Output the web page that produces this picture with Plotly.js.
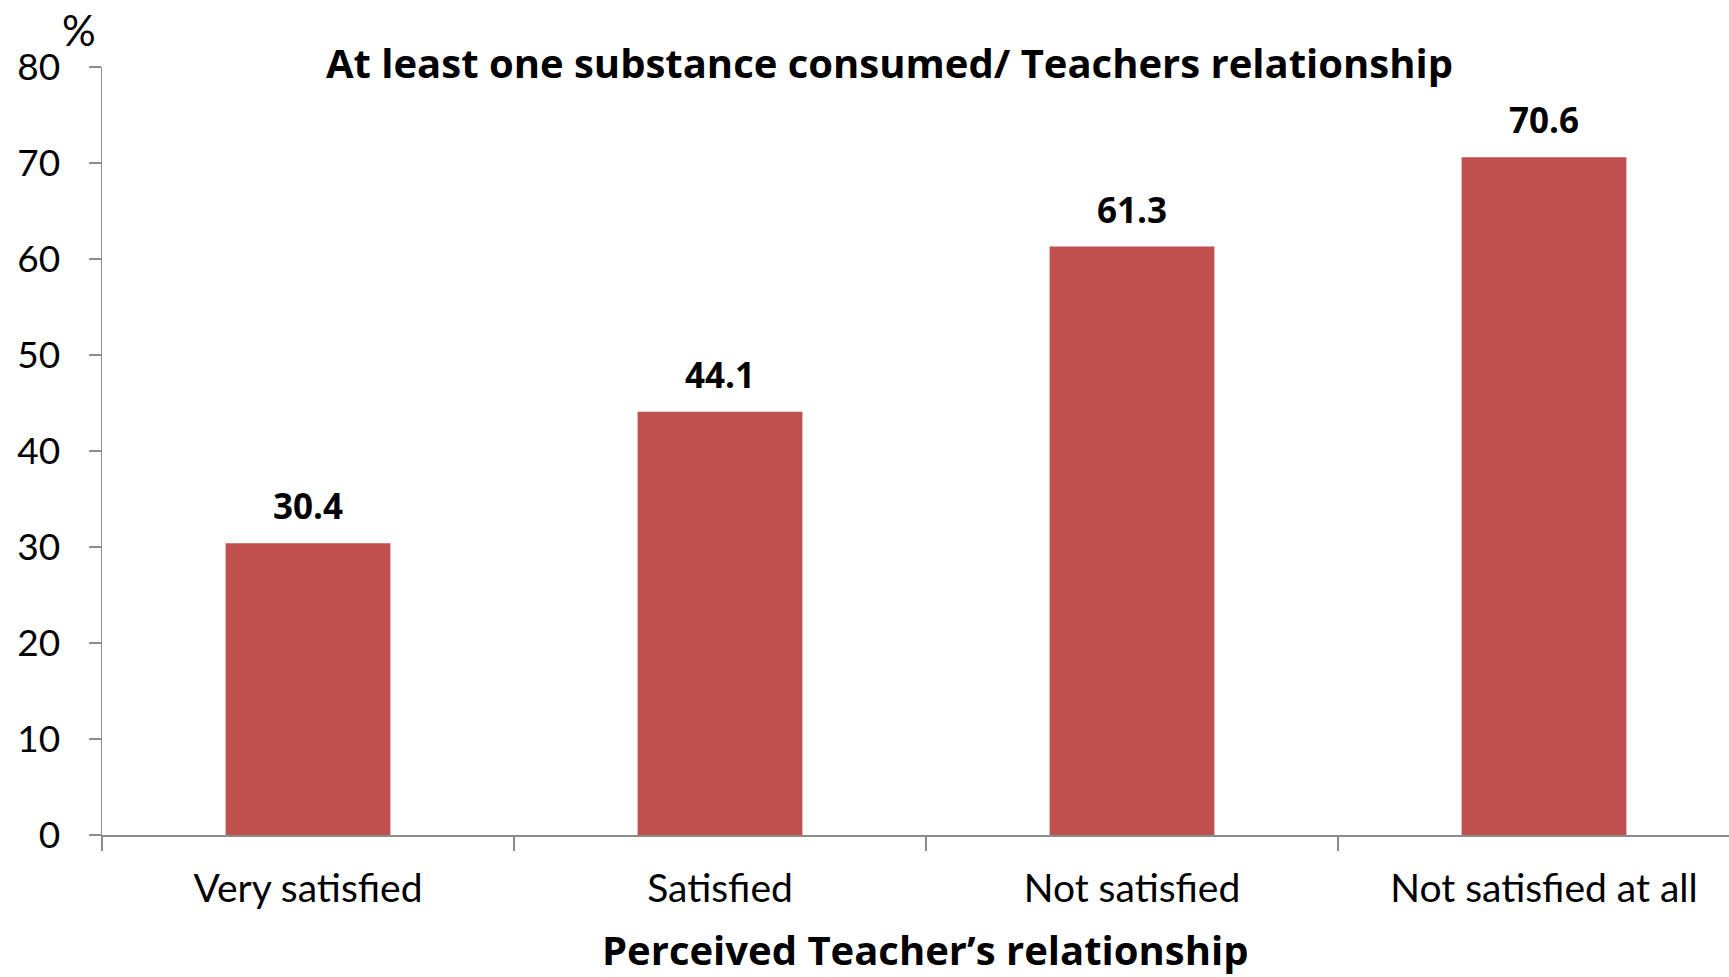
<!DOCTYPE html>
<html>
<head>
<meta charset="utf-8">
<script src="https://cdn.plot.ly/plotly-3.0.1.min.js"></script>
<style>html,body{margin:0;padding:0;background:#fff;}#chart{width:1729px;height:977px;}</style>
</head>
<body>
<div id="chart"></div>
<script>
const categories = ["Very satisfied", "Satisfied", "Not satisfied", "Not satisfied at all"];
const values = [30.4, 44.1, 61.3, 70.6];
const valueLabels = ["30.4", "44.1", "61.3", "70.6"];
const yTickValues = [0, 10, 20, 30, 40, 50, 60, 70, 80];

const barColor = "#C0504D";
const axisColor = "#8C8C8C";
const fontFamily = "Lato, 'Open Sans', sans-serif";
const boldFamily = "'Open Sans', Lato, sans-serif";

const trace = {
  type: "bar",
  x: categories,
  y: values,
  marker: {color: barColor},
  width: 0.4,
  hoverinfo: "skip"
};

const labelAnnotations = categories.map((c, i) => ({
  x: c, y: values[i], xref: "x", yref: "y",
  text: "<b>" + valueLabels[i] + "</b>",
  showarrow: false, yanchor: "bottom", yshift: 12,
  font: {family: boldFamily, size: 35, color: "#000"}
}));

const layout = {
  width: 1729, height: 977,
  margin: {l: 102, r: 0, t: 67, b: 142},
  paper_bgcolor: "#fff", plot_bgcolor: "#fff",
  showlegend: false,
  title: {
    text: "<b>At least one substance consumed/ Teachers relationship</b>",
    font: {family: boldFamily, size: 40, color: "#000"},
    x: 0.484, xref: "paper", xanchor: "center",
    y: 0.935, yref: "container", yanchor: "middle"
  },
  xaxis: {
    type: "category",
    range: [-0.5, 3.449],
    tickson: "boundaries",
    ticks: "outside", ticklen: 14, tickcolor: axisColor, tickwidth: 1.5,
    showline: true, linecolor: axisColor, linewidth: 1.5,
    showgrid: false, zeroline: false,
    tickfont: {family: fontFamily, size: 39, color: "#000"},
    ticklabelstandoff: 19
  },
  yaxis: {
    range: [0, 80],
    tickvals: yTickValues,
    ticktext: yTickValues.map(String),
    ticks: "outside", ticklen: 12, tickcolor: axisColor, tickwidth: 1.5,
    showline: true, linecolor: axisColor, linewidth: 1.5,
    showgrid: false, zeroline: false,
    tickfont: {family: fontFamily, size: 37, color: "#000"},
    ticklabelstandoff: 21
  },
  annotations: labelAnnotations.concat([
    {
      text: "%", xref: "paper", yref: "paper", x: -0.0024, y: 1.0,
      xanchor: "right", yanchor: "bottom", yshift: 10, showarrow: false,
      font: {family: fontFamily, size: 42, color: "#000"}
    },
    {
      text: "<b>Perceived Teacher’s relationship</b>",
      xref: "paper", yref: "paper", x: 0.506, y: -0.1497,
      xanchor: "center", yanchor: "middle", showarrow: false,
      font: {family: boldFamily, size: 40, color: "#000"}
    }
  ])
};

Plotly.newPlot("chart", [trace], layout, {displayModeBar: false, staticPlot: true});
</script>
</body>
</html>
